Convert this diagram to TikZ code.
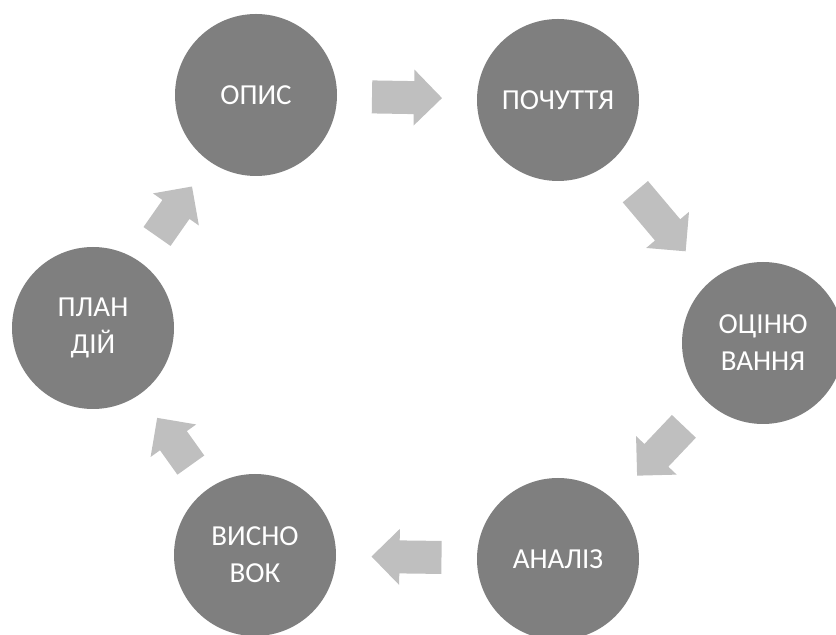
\documentclass[tikz,border=0pt]{standalone}
\usepackage{fontspec}
\setmainfont{Carlito}
\definecolor{stagegray}{HTML}{7F7F7F}
\definecolor{arrowgray}{HTML}{BFBFBF}
\tikzstyle{stage}=[
    circle,
    fill=stagegray,
    inner sep=0pt,
    minimum size=81pt,
    text=white,
    align=center,
    font=\fontsize{14.5}{18.5}\selectfont,
]
\tikzset{
    pics/blockarrow/.style={
        code={
            \fill[arrowgray] (-#1/2,-16.5) -- (#1/2-28,-16.5) -- (#1/2-28,-28)
                -- (#1/2,0) -- (#1/2-28,28) -- (#1/2-28,16.5) -- (-#1/2,16.5) -- cycle;
        }
    },
    onpath/.style={sloped, allow upside down},
}

\begin{document}
\begin{tikzpicture}[x=0.5pt,y=-0.5pt]
        \useasboundingbox (0,0) rectangle (836,635);
        \node (opys) at (256,95) [stage] {ОПИС};
        \node (pochuttia) at (558,100) [stage] {ПОЧУТТЯ};
        \node (otsinka) at (763,343) [stage] {ОЦІНЮ\\ВАННЯ};
        \node (analiz) at (558,559) [stage] {АНАЛІЗ};
        \node (vysnovok) at (255,555) [stage] {ВИСНО\\ВОК};
        \node (plan) at (93,328) [stage] {ПЛАН\\ДІЙ};
        % arrows are half as long as the gap between circles
        \path (opys) -- pic[onpath] {blockarrow=70} (pochuttia);
        \path (pochuttia) -- pic[onpath] {blockarrow=78} (otsinka);
        \path (otsinka) -- pic[onpath] {blockarrow=68} (analiz);
        \path (analiz) -- pic[onpath] {blockarrow=70} (vysnovok);
        \path (vysnovok) -- pic[onpath] {blockarrow=58} (plan);
        \path (plan) -- pic[onpath] {blockarrow=61} (opys);
    \end{tikzpicture}
\end{document}
